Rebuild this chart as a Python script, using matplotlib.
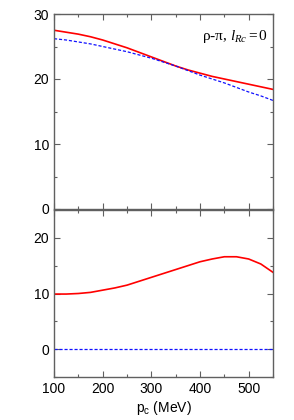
import matplotlib
matplotlib.use("Agg")
import matplotlib.pyplot as plt
from matplotlib.ticker import MultipleLocator

plt.rcParams['font.family'] = ['Liberation Sans', 'DejaVu Sans']
plt.rcParams['mathtext.fontset'] = 'custom'
plt.rcParams['mathtext.rm'] = 'Liberation Serif'
plt.rcParams['mathtext.it'] = 'Liberation Serif:italic'

# data
p_c = [100, 125, 150, 175, 200, 225, 250, 275, 300, 325,
       350, 375, 400, 425, 450, 475, 500, 525, 550]
top_red = [27.5, 27.2, 26.9, 26.5, 26.0, 25.4, 24.8, 24.1, 23.4, 22.7,
           22.0, 21.4, 20.9, 20.4, 20.0, 19.6, 19.2, 18.8, 18.4]
top_blue = [26.2, 26.0, 25.7, 25.4, 25.0, 24.6, 24.2, 23.7, 23.2, 22.6,
            22.0, 21.3, 20.6, 20.0, 19.4, 18.7, 18.0, 17.4, 16.7]
bot_red = [9.9, 9.9, 10.0, 10.2, 10.6, 11.0, 11.5, 12.2, 12.9, 13.6,
           14.3, 15.0, 15.7, 16.2, 16.6, 16.6, 16.2, 15.3, 13.8]
bot_blue = [0] * len(p_c)

frame = '#606060'

fig = plt.figure(figsize=(2.94, 4.2), dpi=100)
ax1 = fig.add_axes([54/294, 1-209/420, 219/294, 195/420])
ax2 = fig.add_axes([54/294, 1-377/420, 219/294, 167/420])

ax1.plot(p_c, top_red, color='#ff0000', lw=1.2)
ax1.plot(p_c, top_blue, color='#1010ff', lw=0.9, dashes=(2.5, 1.5))
ax2.plot(p_c, bot_red, color='#ff0000', lw=1.2)
ax2.plot(p_c, bot_blue, color='#1010ff', lw=0.9, dashes=(2.5, 1.5))

ax1.set_ylim(0, 30)
ax2.set_ylim(-5, 25)
for ax in (ax1, ax2):
    ax.set_xlim(100, 550)
    ax.xaxis.set_major_locator(MultipleLocator(100))
    ax.xaxis.set_minor_locator(MultipleLocator(50))
    ax.yaxis.set_major_locator(MultipleLocator(10))
    ax.yaxis.set_minor_locator(MultipleLocator(5))
    ax.tick_params(which='both', direction='in', top=True, right=True,
                   color=frame, labelsize=10)
    ax.tick_params(which='major', length=4, width=0.8)
    ax.tick_params(which='minor', length=2.5, width=0.8)
    for s in ax.spines.values():
        s.set_color(frame)
        s.set_linewidth(1.0)

ax1.tick_params(labelbottom=False)
ax2.set_yticks([0, 10, 20])
ax2.set_xlabel(r'p$_\mathregular{c}$ (MeV)', fontsize=10, labelpad=2)

ax1.text(0.975, 0.885, r'ρ-π, $l_{Rc}\mathit{=0}$', transform=ax1.transAxes,
         ha='right', va='center', fontsize=11, family='Liberation Serif')

fig.savefig('out.png', dpi=100)
